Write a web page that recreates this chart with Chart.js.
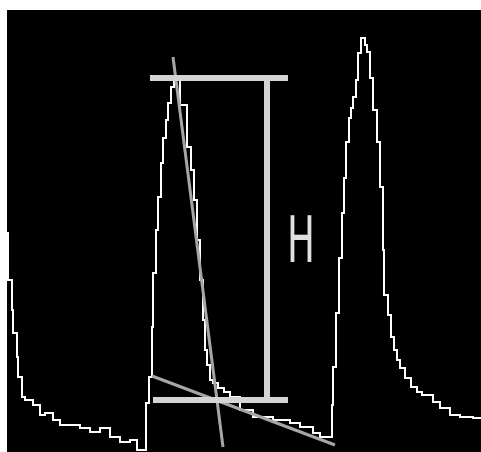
<!DOCTYPE html>
<html lang="en">
<head>
    <meta charset="UTF-8">
    <title>Peak height H</title>
    <script src="https://cdn.jsdelivr.net/npm/chart.js"></script>
    <style>
        html, body { margin: 0; padding: 0; background: #fff; }
        #wrap { width: 481px; height: 452px; }
    </style>
</head>
<body>
    <div id="wrap"><canvas id="peakChart"></canvas></div>

    <script>
        // signal trace (time, signal) - each point ends a flat step of the recorder
        const traceX = [1, 5, 6, 10, 11, 15, 18, 26, 33, 38, 46, 53, 60, 73, 83, 93, 103, 113, 123, 130, 133, 139,
            142, 145, 146, 149, 151, 154, 156, 159, 161, 164, 167, 170, 173, 180, 184, 187, 190, 193, 196, 198,
            200, 203, 206, 211, 217, 223, 233, 246, 266, 283, 293, 306, 313, 318, 325,
            326, 329, 332, 335, 337, 339, 342, 344, 346, 349, 351, 354, 356, 358, 360, 363, 366, 370, 373, 376,
            377, 381, 384, 387, 390, 393, 398, 404, 410, 415, 426, 433, 443, 453, 466, 474];
        const traceY = [220, 172, 142, 119, 95, 75, 55, 52, 47, 37, 39, 32, 27, 27, 24, 20, 24, 15, 10, 12, 2, 2,
            49, 75, 125, 179, 222, 255, 289, 314, 332, 349, 365, 376, 376, 347, 305, 282, 252, 212, 172, 132,
            102, 87, 72, 69, 64, 60, 55, 42, 35, 32, 29, 25, 19, 15, 15,
            47, 85, 139, 194, 239, 274, 310, 334, 344, 355, 372, 399, 414, 414, 407, 400, 374, 342, 310, 265,
            202, 157, 137, 115, 102, 92, 84, 74, 65, 60, 57, 50, 44, 37, 35, 34];

        // tangent lines
        const tangentA = [{x: 166, y: 395}, {x: 216, y: 5}];
        const tangentB = [{x: 145, y: 76}, {x: 328, y: 7}];

        // height marker H
        const peakLevel = 374;
        const baseLevel = 52;
        const capStart = 143;
        const capEnd = 281;
        const markerX = 260;
        const markerLabel = 'H';
        const labelPos = {x: 294, y: 207};

        const trace = traceX.map((x, i) => ({x, y: traceY[i]}));

        const backdrop = {
            id: 'backdrop',
            beforeDraw(chart) {
                const {ctx, chartArea: a} = chart;
                ctx.save();
                ctx.fillStyle = '#ffffff';
                ctx.fillRect(0, 0, chart.width, chart.height);
                ctx.fillStyle = '#000000';
                ctx.fillRect(a.left, a.top, a.right - a.left, a.bottom - a.top);
                ctx.restore();
            }
        };

        const hLabel = {
            id: 'hLabel',
            afterDatasetsDraw(chart) {
                const {ctx, scales} = chart;
                const px = scales.x.getPixelForValue(labelPos.x);
                const py = scales.y.getPixelForValue(labelPos.y);
                ctx.save();
                ctx.translate(px, py);
                ctx.scale(0.58, 1);
                ctx.fillStyle = '#e0e0e0';
                ctx.font = '64px "DejaVu Sans"';
                ctx.textAlign = 'center';
                ctx.textBaseline = 'middle';
                ctx.fillText(markerLabel, 0, 0);
                ctx.restore();
            }
        };

        const grey = (color, width) => ({showLine: true, borderColor: color, borderWidth: width, pointRadius: 0});

        new Chart(document.getElementById('peakChart'), {
            type: 'scatter',
            data: {
                datasets: [
                    {data: [{x: capStart, y: peakLevel}, {x: capEnd, y: peakLevel}], ...grey('#d4d4d4', 6)},
                    {data: [{x: capStart + 3, y: baseLevel}, {x: capEnd, y: baseLevel}], ...grey('#d4d4d4', 6)},
                    {data: [{x: markerX, y: baseLevel}, {x: markerX, y: peakLevel}], ...grey('#d4d4d4', 6)},
                    {data: tangentA, ...grey('#a6a6a6', 3)},
                    {data: tangentB, ...grey('#a6a6a6', 3)},
                    {
                        data: trace,
                        showLine: true, stepped: 'after',
                        borderColor: '#ffffff', borderWidth: 2, pointRadius: 0
                    }
                ]
            },
            options: {
                responsive: true,
                maintainAspectRatio: false,
                animation: false,
                layout: {padding: {left: 7, top: 10, right: 0, bottom: 0}},
                plugins: {legend: {display: false}, tooltip: {enabled: false}},
                scales: {
                    x: {type: 'linear', display: false, min: 0, max: 474},
                    y: {type: 'linear', display: false, min: 0, max: 442}
                }
            },
            plugins: [backdrop, hLabel]
        });
    </script>
</body>
</html>
